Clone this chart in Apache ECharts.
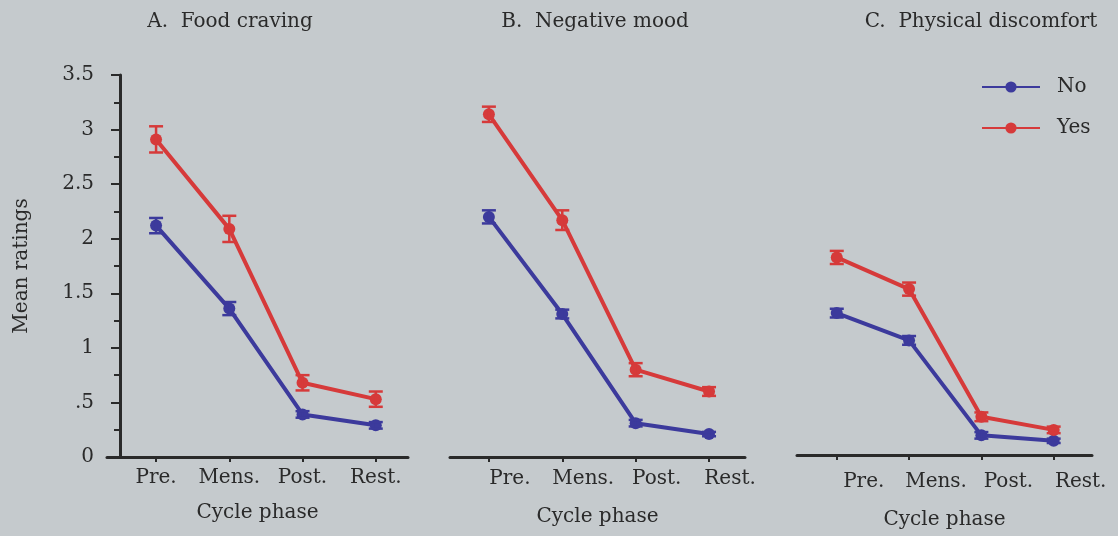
<!DOCTYPE html>
<html>
<head>
<meta charset="utf-8">
<script src="https://cdn.jsdelivr.net/npm/echarts@6/dist/echarts.min.js"></script>
<style>
  html, body { margin: 0; padding: 0; background: #c5cacd; }
  #chart { width: 1118px; height: 536px; }
</style>
</head>
<body>
<div id="chart"></div>
<script>
// ---- data ----
const categories = ['Pre.', 'Mens.', 'Post.', 'Rest.'];
const panelTitles = ['A.  Food craving', 'B.  Negative mood', 'C.  Physical discomfort'];
const yTickLabels = ['0', '.5', '1', '1.5', '2', '2.5', '3', '3.5'];

const foodNo = [2.12, 1.36, 0.39, 0.29];
const foodNoErr = [0.07, 0.06, 0.03, 0.03];
const foodYes = [2.91, 2.09, 0.68, 0.53];
const foodYesErr = [0.12, 0.12, 0.07, 0.07];

const moodNo = [2.2, 1.31, 0.31, 0.21];
const moodNoErr = [0.06, 0.04, 0.03, 0.02];
const moodYes = [3.14, 2.17, 0.8, 0.6];
const moodYesErr = [0.07, 0.09, 0.06, 0.04];

const physNo = [1.3, 1.05, 0.18, 0.13];
const physNoErr = [0.04, 0.04, 0.03, 0.02];
const physYes = [1.81, 1.52, 0.35, 0.23];
const physYesErr = [0.06, 0.06, 0.04, 0.03];

// ---- styling ----
const BLUE = '#3c3a9c';
const RED = '#d63a3a';
const INK = '#2a2a2a';
const FONT = 'DejaVu Serif';
const FS = 20;

const panels = [
  { no: foodNo, noErr: foodNoErr, yes: foodYes, yesErr: foodYesErr,
    grid: { left: 107, width: 301, top: 75, bottom: 79 }, xmin: 0.33, xmax: 4.44,
    labelShift: 0, labelMargin: 11, nameGap: 46, showY: true },
  { no: moodNo, noErr: moodNoErr, yes: moodYes, yesErr: moodYesErr,
    grid: { left: 450, width: 295, top: 75, bottom: 79 }, xmin: 0.47, xmax: 4.49,
    labelShift: 21, labelMargin: 12, nameGap: 50, showY: false },
  { no: physNo, noErr: physNoErr, yes: physYes, yesErr: physYesErr,
    grid: { left: 797, width: 295, top: 73, bottom: 81 }, xmin: 0.45, xmax: 4.53,
    labelShift: 27, labelMargin: 17, nameGap: 55, showY: false }
];

const grids = [], xAxes = [], yAxes = [], series = [];

function pts(arr, err) { return arr.map((v, i) => [i + 1, v, err ? err[i] : 0]); }

function errorBar(color) {
  return function (params, api) {
    const x = api.value(0), y = api.value(1), e = api.value(2);
    const lo = api.coord([x, y - e]);
    const hi = api.coord([x, y + e]);
    const w = 7;
    const st = { stroke: color, lineWidth: 2.5 };
    return {
      type: 'group',
      children: [
        { type: 'line', shape: { x1: lo[0], y1: lo[1], x2: hi[0], y2: hi[1] }, style: st },
        { type: 'line', shape: { x1: lo[0] - w, y1: lo[1], x2: lo[0] + w, y2: lo[1] }, style: st },
        { type: 'line', shape: { x1: hi[0] - w, y1: hi[1], x2: hi[0] + w, y2: hi[1] }, style: st }
      ]
    };
  };
}

panels.forEach((p, i) => {
  grids.push(Object.assign({}, p.grid));
  xAxes.push({
    type: 'value', gridIndex: i, min: p.xmin, max: p.xmax,
    splitLine: { show: false },
    axisLine: { show: true, lineStyle: { color: INK, width: 3 } },
    axisTick: { show: true, customValues: [1, 2, 3, 4], length: 5, inside: false, lineStyle: { color: INK, width: 2 } },
    axisLabel: {
      customValues: [1, 2, 3, 4],
      formatter: v => categories[Math.round(v) - 1],
      color: INK, fontFamily: FONT, fontSize: FS, margin: p.labelMargin,
      padding: [0, 0, 0, p.labelShift * 2]
    },
    name: 'Cycle phase', nameLocation: 'middle', nameGap: p.nameGap,
    nameTextStyle: { color: INK, fontFamily: FONT, fontSize: FS }
  });
  yAxes.push({
    type: 'value', gridIndex: i, min: 0, max: 3.5, interval: 0.5,
    show: p.showY,
    offset: -13,
    splitLine: { show: false },
    axisLine: { show: true, lineStyle: { color: INK, width: 3 } },
    axisTick: { show: true, length: 9, lineStyle: { color: INK, width: 2 } },
    minorTick: { show: true, splitNumber: 2, length: 6, lineStyle: { color: INK, width: 2 } },
    axisLabel: {
      formatter: v => yTickLabels[Math.round(v * 2)],
      color: INK, fontFamily: FONT, fontSize: FS, margin: 26
    },
    name: p.showY ? 'Mean ratings' : '', nameLocation: 'middle', nameRotate: 90, nameGap: 88,
    nameTextStyle: { color: INK, fontFamily: FONT, fontSize: FS }
  });
  [['No', p.no, p.noErr, BLUE], ['Yes', p.yes, p.yesErr, RED]].forEach(([name, vals, errs, color]) => {
    series.push({
      type: 'line', name: name, xAxisIndex: i, yAxisIndex: i,
      data: pts(vals),
      symbol: 'circle', symbolSize: 12,
      lineStyle: { color: color, width: 4 },
      itemStyle: { color: color },
      z: 3, animation: false
    });
    series.push({
      type: 'custom', name: name + ' SE', xAxisIndex: i, yAxisIndex: i,
      data: pts(vals, errs),
      renderItem: errorBar(color),
      encode: { x: 0, y: 1 },
      z: 4, animation: false, silent: true
    });
  });
});

const chart = echarts.init(document.getElementById('chart'));
chart.setOption({
  backgroundColor: '#c5cacd',
  animation: false,
  title: [
    { text: panelTitles[0], left: 225, top: 7, textAlign: 'center' },
    { text: panelTitles[1], left: 590, top: 7, textAlign: 'center' },
    { text: panelTitles[2], left: 976, top: 7, textAlign: 'center' }
  ].map(t => Object.assign(t, { textStyle: { color: INK, fontFamily: FONT, fontSize: FS, fontWeight: 'normal' } })),
  legend: {
    data: ['No', 'Yes'],
    orient: 'vertical', left: 976, top: 72,
    itemWidth: 58, itemHeight: 14, itemGap: 21,
    textStyle: { color: INK, fontFamily: FONT, fontSize: FS, padding: [0, 0, 0, 12] }
  },
  grid: grids,
  xAxis: xAxes,
  yAxis: yAxes,
  series: series
});
</script>
</body>
</html>
